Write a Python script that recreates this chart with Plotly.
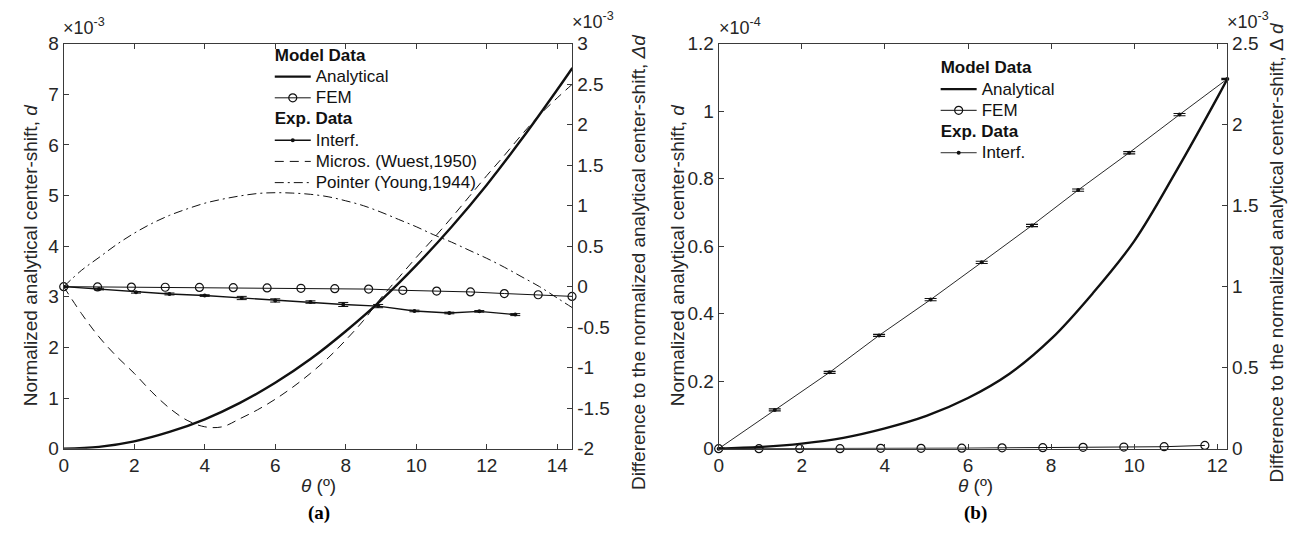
import plotly.graph_objects as go

FONT = "Liberation Sans, Arial, sans-serif"
INK = "#111111"
AX = "#3a3a3a"
TXT = "#262626"

# ---------------- Panel (a) data ----------------
theta_an_a = [0, 1, 2, 3, 4, 5, 6, 7, 8, 9, 10, 11, 12, 13, 14, 14.43]
d_an_a = [0, 0.036, 0.145, 0.33, 0.58, 0.905, 1.30, 1.77, 2.32, 2.93, 3.62, 4.38, 5.21, 6.12, 7.09, 7.52]  # x1e-3

theta_fem_a = [0, 0.96, 1.92, 2.88, 3.85, 4.81, 5.77, 6.73, 7.69, 8.65, 9.62, 10.58, 11.54, 12.50, 13.46, 14.42]
dd_fem_a = [0, -0.003, -0.005, -0.007, -0.01, -0.012, -0.015, -0.02, -0.025, -0.03, -0.045, -0.055, -0.065, -0.085, -0.10, -0.12]

theta_int_a = [0, 1.0, 2.05, 3.0, 4.0, 5.05, 6.0, 7.0, 7.93, 8.92, 9.95, 10.94, 11.79, 12.81]
dd_int_a = [0, -0.03, -0.07, -0.09, -0.11, -0.14, -0.17, -0.19, -0.22, -0.24, -0.30, -0.325, -0.305, -0.345]
err_int_a = [0.01, 0.01, 0.01, 0.012, 0.01, 0.02, 0.02, 0.015, 0.025, 0.02, 0.01, 0.01, 0.01, 0.012]

theta_curve_a = [0, 0.5, 1, 1.5, 2, 2.5, 3, 3.5, 4, 4.5, 5, 5.5, 6, 6.5, 7, 7.5, 8, 8.5, 9, 9.5,
                 10, 10.5, 11, 11.5, 12, 12.5, 13, 13.5, 14, 14.43]
dd_micros_a = [0, -0.33, -0.62, -0.86, -1.07, -1.30, -1.50, -1.65, -1.73, -1.73, -1.63, -1.52, -1.39, -1.24,
               -1.07, -0.88, -0.66, -0.42, -0.14, 0.11, 0.36, 0.60, 0.85, 1.11, 1.37, 1.62, 1.88, 2.12, 2.33, 2.50]
dd_pointer_a = [0, 0.20, 0.36, 0.52, 0.66, 0.78, 0.88, 0.96, 1.03, 1.08, 1.12, 1.15, 1.16, 1.155, 1.14,
                1.11, 1.06, 1.00, 0.92, 0.83, 0.74, 0.64, 0.55, 0.45, 0.35, 0.24, 0.12, 0.0, -0.14, -0.26]

# ---------------- Panel (b) data ----------------
theta_an_b = [0, 1, 2, 3, 4, 5, 6, 7, 8, 9, 10, 11, 12, 12.24]
d_an_b = [0, 0.005, 0.015, 0.032, 0.06, 0.097, 0.15, 0.222, 0.325, 0.46, 0.615, 0.82, 1.04, 1.095]  # x1e-4

theta_fem_b = [0, 0.97, 1.95, 2.92, 3.9, 4.87, 5.85, 6.82, 7.8, 8.77, 9.75, 10.72, 11.7]
dd_fem_b = [0, 0, 0, 0, 0.002, 0.002, 0.003, 0.005, 0.006, 0.008, 0.01, 0.012, 0.02]  # x1e-3

theta_int_b = [0, 1.35, 2.67, 3.86, 5.1, 6.33, 7.54, 8.65, 9.88, 11.09, 12.24]
dd_int_b = [0, 0.239, 0.471, 0.699, 0.92, 1.15, 1.378, 1.596, 1.827, 2.062, 2.282]
err_int_b = [0.004, 0.006, 0.006, 0.006, 0.007, 0.007, 0.007, 0.007, 0.007, 0.007, 0.004]

# tick labels
xt_a = [0, 2, 4, 6, 8, 10, 12, 14]
yl_a = [0, 1, 2, 3, 4, 5, 6, 7, 8]
yr_a = [-2, -1.5, -1, -0.5, 0, 0.5, 1, 1.5, 2, 2.5, 3]
yr_a_txt = ["-2", "-1.5", "-1", "-0.5", "0", "0.5", "1", "1.5", "2", "2.5", "3"]
xt_b = [0, 2, 4, 6, 8, 10, 12]
yl_b = [0, 0.2, 0.4, 0.6, 0.8, 1, 1.2]
yl_b_txt = ["0", "0.2", "0.4", "0.6", "0.8", "1", "1.2"]
yr_b = [0, 0.5, 1, 1.5, 2, 2.5]
yr_b_txt = ["0", "0.5", "1", "1.5", "2", "2.5"]

W, H = 1293, 552
def px(x):
    return x / W
def py(y):
    return 1 - y / H

def lg(t):
    return "<span style='font-size:17px'>" + t + "</span>"
def gt(t):
    return "<b><span style='font-size:17px'>" + t + "</span></b>"

fig = go.Figure()

# ----- panel (a) traces -----
fig.add_trace(go.Scatter(x=theta_an_a, y=d_an_a, mode="lines", name=lg("Analytical"),
                         line=dict(color=INK, width=2.4, shape="spline"),
                         xaxis="x", yaxis="y", legend="legend", legendgroup="ma",
                         legendgrouptitle=dict(text=gt("Model Data"), font=dict(size=14, color=INK))))
fig.add_trace(go.Scatter(x=theta_fem_a, y=dd_fem_a, mode="lines+markers", name=lg("FEM"),
                         line=dict(color=INK, width=1),
                         marker=dict(symbol="circle-open", size=8, color=INK, line=dict(width=1.2)),
                         cliponaxis=False, xaxis="x", yaxis="y2", legend="legend", legendgroup="ma"))
fig.add_trace(go.Scatter(x=theta_int_a, y=dd_int_a, mode="lines+markers", name=lg("Interf."),
                         line=dict(color=INK, width=1.4),
                         marker=dict(symbol="circle", size=4, color=INK),
                         error_y=dict(type="data", array=err_int_a, visible=True, color=INK, thickness=1, width=5),
                         xaxis="x", yaxis="y2", legend="legend", legendgroup="ea",
                         legendgrouptitle=dict(text=gt("Exp. Data"), font=dict(size=14, color=INK))))
fig.add_trace(go.Scatter(x=theta_curve_a, y=dd_micros_a, mode="lines", name=lg("Micros. (Wuest,1950)"),
                         line=dict(color=INK, width=1, dash="9px,6px", shape="spline"),
                         xaxis="x", yaxis="y2", legend="legend", legendgroup="ea"))
fig.add_trace(go.Scatter(x=theta_curve_a, y=dd_pointer_a, mode="lines", name=lg("Pointer (Young,1944)"),
                         line=dict(color=INK, width=1, dash="9px,4px,2px,4px", shape="spline"),
                         xaxis="x", yaxis="y2", legend="legend", legendgroup="ea"))

# ----- panel (b) traces -----
fig.add_trace(go.Scatter(x=theta_an_b, y=d_an_b, mode="lines", name=lg("Analytical"),
                         line=dict(color=INK, width=2.4, shape="spline"),
                         xaxis="x2", yaxis="y3", legend="legend2", legendgroup="mb",
                         legendgrouptitle=dict(text=gt("Model Data"), font=dict(size=14, color=INK))))
fig.add_trace(go.Scatter(x=theta_fem_b, y=dd_fem_b, mode="lines+markers", name=lg("FEM"),
                         line=dict(color=INK, width=1),
                         marker=dict(symbol="circle-open", size=8, color=INK, line=dict(width=1.2)),
                         cliponaxis=False, xaxis="x2", yaxis="y4", legend="legend2", legendgroup="mb"))
fig.add_trace(go.Scatter(x=theta_int_b, y=dd_int_b, mode="lines+markers", name=lg("Interf."),
                         line=dict(color=INK, width=0.9),
                         marker=dict(symbol="circle", size=4, color=INK),
                         error_y=dict(type="data", array=err_int_b, visible=True, color=INK, thickness=1.2, width=6),
                         cliponaxis=False, xaxis="x2", yaxis="y4", legend="legend2", legendgroup="eb",
                         legendgrouptitle=dict(text=gt("Exp. Data"), font=dict(size=14, color=INK))))

tickfont = dict(family=FONT, size=19, color=TXT)
common = dict(showgrid=False, zeroline=False, showline=True, linecolor=AX, linewidth=1,
              ticks="inside", ticklen=5, tickcolor=AX, tickfont=tickfont)

ya0, ya1 = py(456), py(35)
fig.update_layout(
    width=W, height=H, margin=dict(l=0, r=0, t=0, b=0),
    paper_bgcolor="white", plot_bgcolor="white",
    font=dict(family=FONT, color=TXT),
    xaxis=dict(domain=[px(59), px(570)], range=[0, 14.43], tickvals=xt_a, anchor="y",
               mirror="ticks", **common),
    yaxis=dict(domain=[ya0, ya1], range=[0, 8], tickvals=yl_a, anchor="x", **common),
    yaxis2=dict(range=[-2, 3], tickvals=yr_a, ticktext=yr_a_txt, overlaying="y", side="right",
                anchor="x", **common),
    xaxis2=dict(domain=[px(717), px(1228)], range=[0, 12.24], tickvals=xt_b, anchor="y3",
                mirror="ticks", **common),
    yaxis3=dict(domain=[ya0, ya1], range=[0, 1.2], tickvals=yl_b, ticktext=yl_b_txt, anchor="x2", **common),
    yaxis4=dict(range=[0, 2.5], tickvals=yr_b, ticktext=yr_b_txt, overlaying="y3", side="right",
                anchor="x2", **common),
    legend=dict(x=px(266), y=py(31), xanchor="left", yanchor="top", bgcolor="rgba(0,0,0,0)",
                font=dict(family=FONT, size=14, color=INK), tracegroupgap=0, itemwidth=36,
                groupclick="toggleitem"),
    legend2=dict(x=px(935), y=py(44), xanchor="left", yanchor="top", bgcolor="rgba(0,0,0,0)",
                 font=dict(family=FONT, size=14, color=INK), tracegroupgap=0, itemwidth=36,
                 groupclick="toggleitem"),
    showlegend=True,
)

ann = []
def title(x, y, text, angle=-90, size=19, family=FONT, color=TXT):
    ann.append(dict(x=px(x), y=py(y), xref="paper", yref="paper", text=text, showarrow=False,
                    textangle=angle, font=dict(family=family, size=size, color=color),
                    xanchor="center", yanchor="middle"))

title(25, 255, "Normalized analytical center-shift, <i>d</i>")
title(636, 262, "Difference to the normalized analytical center-shift, <i>Δd</i>")
title(675, 255, "Normalized analytical center-shift, <i>d</i>")
title(1277, 252, "Difference to the normalized analytical center-shift, Δ <i>d</i>")
title(315, 494, "<i>θ</i> (º)", angle=0)
title(975, 494, "<i>θ</i> (º)", angle=0)
title(315, 523, "<b>(a)</b>", angle=0, size=19, family="Liberation Serif, Times New Roman, serif", color="#000")
title(975, 523, "<b>(b)</b>", angle=0, size=19, family="Liberation Serif, Times New Roman, serif", color="#000")

def expo(x, ybottom, text):
    ann.append(dict(x=px(x), y=py(ybottom), xref="paper", yref="paper", text=text, showarrow=False,
                    font=dict(family=FONT, size=18, color=TXT), xanchor="left", yanchor="bottom"))

expo(56, 31, "×10<sup>-3</sup>")
expo(568, 25, "×10<sup>-3</sup>")
expo(715, 31, "×10<sup>-4</sup>")
expo(1226, 25, "×10<sup>-3</sup>")

fig.update_layout(annotations=ann)
fig.write_html("out.html")
